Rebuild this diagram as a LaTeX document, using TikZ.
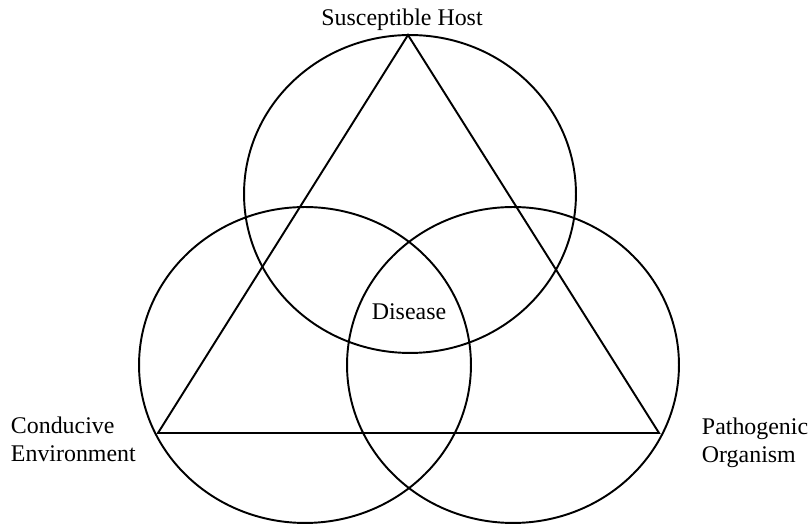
\documentclass[tikz,border=0pt]{standalone}
\usepackage{fontspec}
\setmainfont{Liberation Serif}
\begin{document}
\begin{tikzpicture}[x=0.02cm,y=0.02cm,line width=1.1pt,
    ring/.style={draw,line width=1.1pt},
    label text/.style={inner sep=0pt,font=\fontsize{13.6}{15.9}\selectfont}]
        \useasboundingbox (0,0) rectangle (809,527);

        \coordinate (host) at (410,333);
        \coordinate (env) at (305,162);
        \coordinate (path) at (513,162);

        \draw[ring] (host) ellipse [x radius=3.32cm, y radius=3.18cm];
        \draw[ring] (env) ellipse [x radius=3.32cm, y radius=3.16cm];
        \draw[ring] (path) ellipse [x radius=3.32cm, y radius=3.16cm];

        \coordinate (a) at (408,492);
        \coordinate (b) at (158,94);
        \coordinate (c) at (659,94);
        \draw (a) -- (b) -- (c) -- cycle;

        \node[label text, anchor=base] at (402,501) (hostlabel) {Susceptible Host};
        \node[label text, anchor=base] at (409,207) (disease) {Disease};
        \node[label text, anchor=west, align=left] at (10,88) (envlabel) {Conducive\\Environment};
        \node[label text, anchor=west, align=left] at (701,84) (pathlabel) {Pathogenic\\Organism};
\end{tikzpicture}
\end{document}
